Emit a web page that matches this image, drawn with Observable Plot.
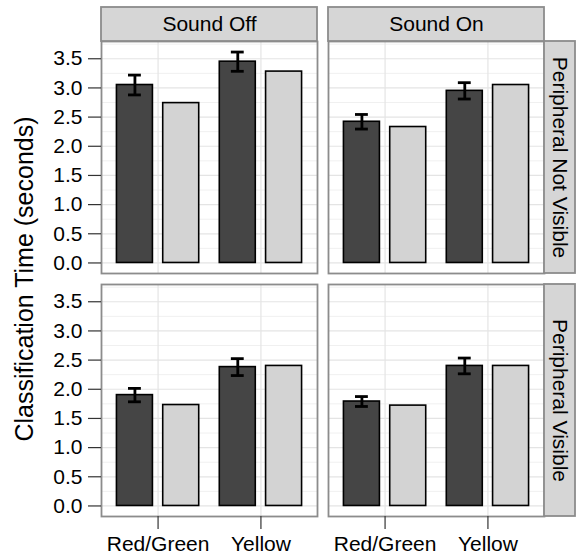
<!DOCTYPE html>
<html>
<head>
<meta charset="utf-8">
<script src="https://cdn.jsdelivr.net/npm/d3@7"></script>
<script src="https://cdn.jsdelivr.net/npm/@observablehq/plot@0.6"></script>
<style>
  html, body { margin: 0; padding: 0; background: #fff; }
  svg { display: block; }
</style>
</head>
<body>
<div id="chart"></div>
<script>
// ---- data ----
const sounds = ["Sound Off", "Sound On"];
const peripherals = ["Peripheral Not Visible", "Peripheral Visible"];
const colors = ["Red/Green", "Yellow"];

// one entry per (panel, colour) pair
const pairSound      = ["Sound Off", "Sound Off", "Sound On", "Sound On", "Sound Off", "Sound Off", "Sound On", "Sound On"];
const pairPeripheral = ["Peripheral Not Visible", "Peripheral Not Visible", "Peripheral Not Visible", "Peripheral Not Visible",
                        "Peripheral Visible", "Peripheral Visible", "Peripheral Visible", "Peripheral Visible"];
const pairColor      = ["Red/Green", "Yellow", "Red/Green", "Yellow", "Red/Green", "Yellow", "Red/Green", "Yellow"];
const observedMean   = [3.05, 3.45, 2.42, 2.95, 1.90, 2.38, 1.79, 2.40];
const observedSE     = [0.17, 0.165, 0.125, 0.14, 0.115, 0.145, 0.085, 0.135];
const modelMean      = [2.74, 3.28, 2.33, 3.05, 1.73, 2.40, 1.72, 2.40];

const yTicks      = [0.0, 0.5, 1.0, 1.5, 2.0, 2.5, 3.0, 3.5];
const yMinorTicks = [0.25, 0.75, 1.25, 1.75, 2.25, 2.75, 3.25, 3.75];
const yTitle = "Classification Time (seconds)";

// ---- table built from the arrays ----
const rows = [];
pairSound.forEach((s, i) => {
  rows.push({sound: s, peripheral: pairPeripheral[i], color: pairColor[i], type: "observed", mean: observedMean[i], se: observedSE[i]});
  rows.push({sound: s, peripheral: pairPeripheral[i], color: pairColor[i], type: "model", mean: modelMean[i], se: null});
});
const observed = rows.filter(d => d.type === "observed");
const model = rows.filter(d => d.type === "model");

// ---- layout helpers (position_dodge equivalent) ----
const dodge = {observed: -0.225, model: 0.225};
const barHalf = 0.175;
const capHalf = 0.0625;
const xc = d => colors.indexOf(d.color) + 1 + dodge[d.type];
const xDomain = [0.45, 2.55];
const yMax = d3.max(rows, d => d.mean + (d.se ?? 0));
const yDomain = [-0.05 * yMax, 1.05 * yMax];

const dark = "#454545", light = "#d3d3d3", border = "#8c8c8c", stripFill = "#d6d6d6";
const fs = 21;

const chart = Plot.plot({
  width: 576,
  height: 556,
  marginTop: 41,
  marginLeft: 101,
  marginRight: 32,
  marginBottom: 40,
  style: {fontFamily: "'Liberation Sans', Arial, sans-serif", fontSize: fs + "px", background: "#fff", color: "#000", overflow: "visible"},
  fx: {domain: sounds, paddingInner: 0.0485, paddingOuter: 0, axis: null},
  fy: {domain: peripherals, paddingInner: 0.0453, paddingOuter: 0, axis: null},
  x: {domain: xDomain, axis: null},
  y: {domain: yDomain, axis: null},
  marks: [
    // grid
    Plot.ruleY(yMinorTicks, {stroke: "#f0f0f0", strokeWidth: 1}),
    Plot.ruleY(yTicks, {stroke: "#e4e4e4", strokeWidth: 1.2}),
    Plot.ruleX(colors, {x: (d, i) => i + 1, stroke: "#e4e4e4", strokeWidth: 1.2}),
    // bars
    Plot.rect(observed, {fx: "sound", fy: "peripheral", x1: d => xc(d) - barHalf, x2: d => xc(d) + barHalf, y1: () => 0, y2: "mean",
      fill: dark, stroke: "#000", strokeWidth: 1.6}),
    Plot.rect(model, {fx: "sound", fy: "peripheral", x1: d => xc(d) - barHalf, x2: d => xc(d) + barHalf, y1: () => 0, y2: "mean",
      fill: light, stroke: "#000", strokeWidth: 1.6}),
    // error bars
    Plot.ruleX(observed, {fx: "sound", fy: "peripheral", x: xc, y1: d => d.mean - d.se, y2: d => d.mean + d.se, stroke: "#000", strokeWidth: 2.8}),
    Plot.ruleY(observed, {fx: "sound", fy: "peripheral", y: d => d.mean + d.se, x1: d => xc(d) - capHalf, x2: d => xc(d) + capHalf, stroke: "#000", strokeWidth: 2.8}),
    Plot.ruleY(observed, {fx: "sound", fy: "peripheral", y: d => d.mean - d.se, x1: d => xc(d) - capHalf, x2: d => xc(d) + capHalf, stroke: "#000", strokeWidth: 2.8}),
    // panel border
    Plot.frame({stroke: border, strokeWidth: 1.8}),
    // top strips
    Plot.rect(sounds, {fx: d => d, fy: () => peripherals[0], x1: () => xDomain[0], x2: () => xDomain[1],
      y1: () => yDomain[1], y2: () => yDomain[1], insetTop: -34, fill: stripFill, stroke: border, strokeWidth: 1.8}),
    Plot.text(sounds, {fx: d => d, fy: () => peripherals[0], frameAnchor: "top", dy: -17, lineAnchor: "middle", textAnchor: "middle",
      text: d => d, fontSize: fs}),
    // right strips
    Plot.rect(peripherals, {fy: d => d, fx: () => sounds[1], x1: () => xDomain[1], x2: () => xDomain[1],
      y1: () => yDomain[0], y2: () => yDomain[1], insetRight: -31, fill: stripFill, stroke: border, strokeWidth: 1.8}),
    Plot.text(peripherals, {fy: d => d, fx: () => sounds[1], frameAnchor: "right", dx: 15, rotate: 90, lineAnchor: "middle", textAnchor: "middle",
      text: d => d, fontSize: fs}),
    // axes
    Plot.axisY(yTicks, {anchor: "left", facetAnchor: "left", tickFormat: d3.format(".1f"), tickSize: 13, tickPadding: 6,
      stroke: "#333", strokeWidth: 1.2, fontSize: fs, label: null}),
    Plot.axisX(colors.map((c, i) => i + 1), {anchor: "bottom", facetAnchor: "bottom", tickFormat: v => colors[v - 1], tickSize: 13, tickPadding: 7,
      stroke: "#333", strokeWidth: 1.2, fontSize: fs, label: null}),
    // y title
    Plot.text([yTitle], {facet: "super", frameAnchor: "left", dx: -77, rotate: -90, lineAnchor: "middle", textAnchor: "middle",
      text: d => d, fontSize: 25})
  ]
});
document.getElementById("chart").appendChild(chart);
</script>
</body>
</html>
